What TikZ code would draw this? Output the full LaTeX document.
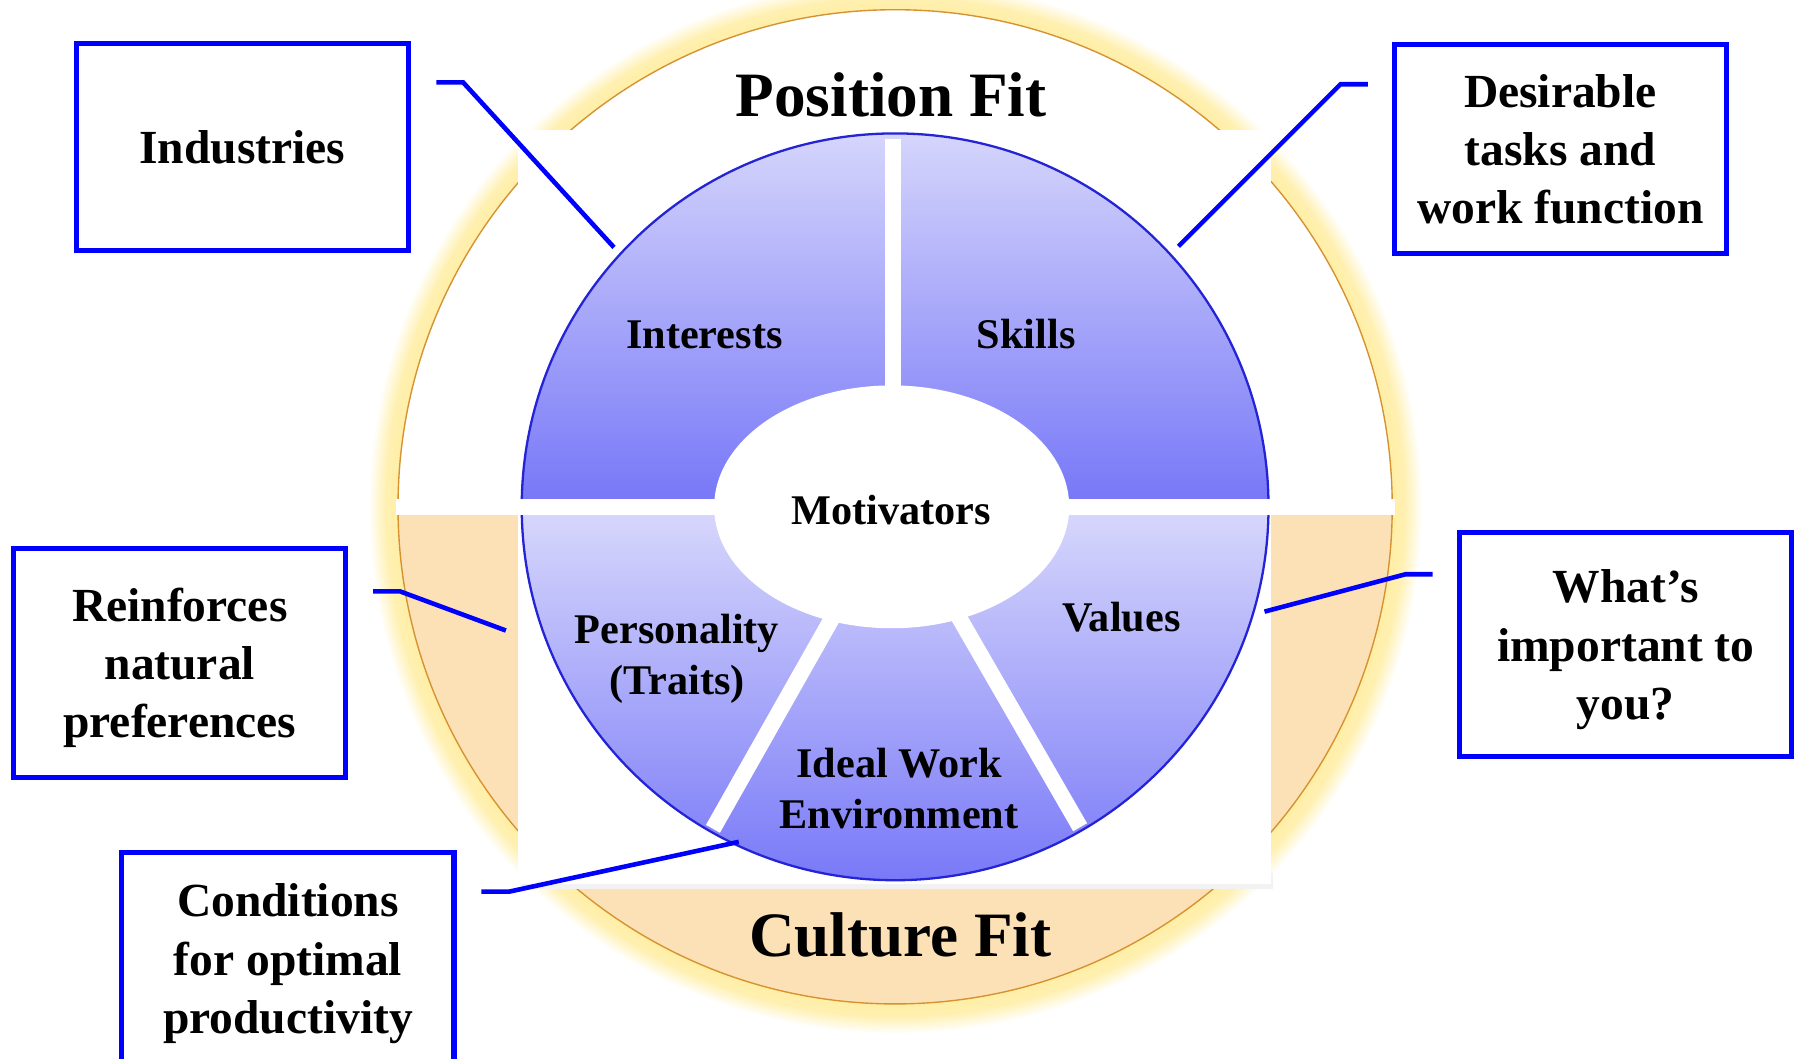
\documentclass[tikz,border=0pt]{standalone}
\usepackage{fontspec}
\setmainfont{Liberation Serif}
\usepackage{tikz}
\definecolor{rimcol}{RGB}{214,146,48}
\definecolor{peach}{RGB}{253,225,182}
\definecolor{glowcol}{RGB}{255,238,165}
\definecolor{ringtop}{RGB}{214,214,252}
\definecolor{ringbot}{RGB}{120,120,248}
\definecolor{ringline}{RGB}{36,36,214}
\definecolor{boxblue}{RGB}{0,0,255}
\pgfdeclareradialshading{glow}{\pgfpoint{0bp}{0bp}}{color(0bp)=(glowcol); color(23.6bp)=(glowcol); color(24.2bp)=(glowcol!85!white); color(25bp)=(white); color(50bp)=(white)}

\begin{document}
\begin{tikzpicture}[x=0.1mm, y=0.1mm,
  infobox/.style={draw=boxblue, line width=0.45mm, minimum width=29mm, align=center, text depth=0pt, font=\fontsize{11.8}{14.5}\selectfont\bfseries},
  ringlabel/.style={align=center, font=\fontsize{10.5}{12.6}\selectfont\bfseries},
  fittitle/.style={font=\fontsize{15.7}{18}\selectfont\bfseries},
  connector/.style={boxblue, line width=0.4mm},
  divider/.style={white, line width=1.4mm}]
\useasboundingbox (-781.5,-481.5) rectangle (786.5,442.5);

\shade[shading=glow] (0,0) circle (460);
\fill[white] (0,0) circle (434);
\begin{scope}
\clip (-440,-7) rectangle (440,-440);
\fill[peach] (0,0) circle (434);
\end{scope}
\draw[rimcol, line width=0.12mm] (0,0) circle (434);
\fill[black!10] (-327,-332) rectangle (329,-320);
\fill[black!5] (-327,-334) rectangle (330,-320);
\fill[white] (-329,-329) rectangle (328,329);

\shade[top color=ringtop, bottom color=ringbot] (1.2:326) arc[start angle=1.2, end angle=178.8, radius=326] -- cycle;
\shade[top color=ringtop, bottom color=ringbot] (-1.2:326) arc[start angle=-1.2, end angle=-178.8, radius=326] -- cycle;
\draw[ringline, line width=0.2mm] (0,0) circle (326);
\fill[white] (-436,-7) rectangle (436,7);
\fill[white] (-3,0) ellipse [x radius=155, y radius=106];
\draw[divider] (-1.5,0) -- (-1.5,321);
\draw[divider] (0,0) -- (240.5:323);
\draw[divider] (0,0) -- (300:323);

\node[fittitle] (posfit) at (-3.5,359.5) {Position Fit};
\node[fittitle] (culfit) at (4.5,-373.5) {Culture Fit};
\node[ringlabel] (interests) at (-166.5,150.5) {Interests};
\node[ringlabel] (skills) at (114.5,150.5) {Skills};
\node[ringlabel] (motiv) at (-3.5,-2.5) {Motivators};
\node[ringlabel] (person) at (-190.5,-132.5) {Personality\\(Traits)};
\node[ringlabel] (values) at (197.5,-96.5) {Values};
\node[ringlabel] (idealenv) at (3.5,-246) {Ideal Work\\Environment};

\node[infobox, minimum height=18.1mm] (industries) at (-570,314) {Industries};
\node[infobox, minimum height=18.2mm] (desirable) at (580.8,312.3) {Desirable\\tasks and\\work function};
\node[infobox, minimum height=20mm] (reinforces) at (-624.5,-136.1) {Reinforces\\natural\\preferences};
\node[infobox, minimum height=19.6mm] (important) at (637.9,-120.3) {What’s\\important to\\you?};
\node[infobox, minimum height=18.6mm] (conditions) at (-530.1,-394.5) {Conditions\\for optimal\\productivity};

\coordinate (ind-a) at (-400.6,370.6);
\coordinate (ind-b) at (137.3:334);
\coordinate (des-a) at (412.8,368.9);
\coordinate (des-b) at (42.6:336);
\coordinate (rei-a) at (-455.7,-73.8);
\coordinate (rei-b) at (-339.8,-108);
\coordinate (imp-a) at (469.3,-58.9);
\coordinate (imp-b) at (322.5,-91.5);
\coordinate (con-a) at (-361.2,-336);
\coordinate (con-b) at (-136.5,-292.5);

\draw[connector] (ind-a) -- ++(23.4,0) -- (ind-b);
\draw[connector] (des-a) -- ++(-24,0) -- (des-b);
\draw[connector] (rei-a) -- ++(23.4,0) -- (rei-b);
\draw[connector] (imp-a) -- ++(-23.8,0) -- (imp-b);
\draw[connector] (con-a) -- ++(24.1,0) -- (con-b);
\end{tikzpicture}
\end{document}
